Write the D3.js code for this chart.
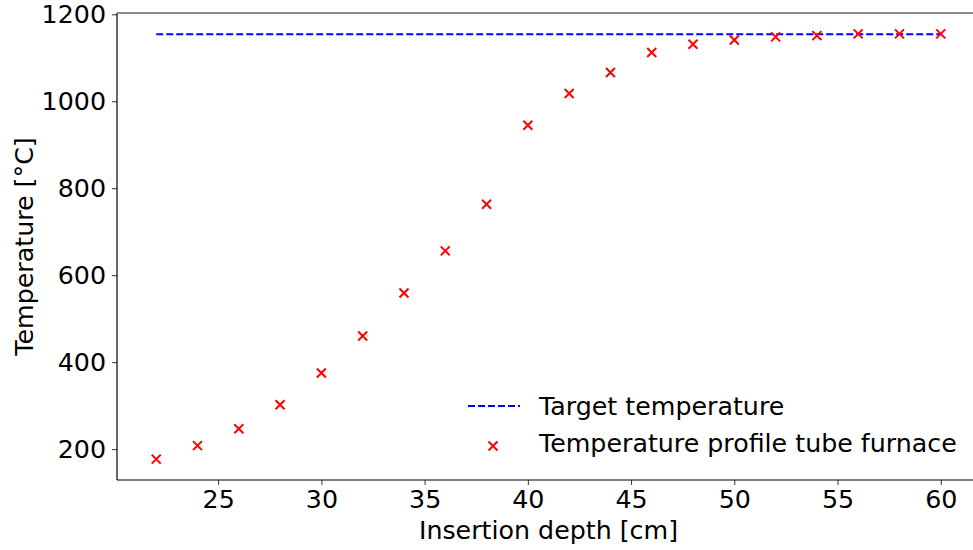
<!DOCTYPE html>
<html>
<head>
<meta charset="utf-8">
<script src="https://cdn.jsdelivr.net/npm/d3@7"></script>
<style>
  body { margin: 0; background: #fff; }
  text { font-family: "DejaVu Sans", sans-serif; }
</style>
</head>
<body>
<div id="chart"></div>
<script>
// data
var depths = [22, 24, 26, 28, 30, 32, 34, 36, 38, 40, 42, 44, 46, 48, 50, 52, 54, 56, 58, 60];
var temps = [177, 208, 247, 302, 375, 460, 559, 656, 763, 945, 1018, 1066, 1112, 1131, 1141, 1148, 1151, 1155, 1155, 1155];
var targetTemp = 1154;
var xTicks = [25, 30, 35, 40, 45, 50, 55, 60];
var yTicks = [200, 400, 600, 800, 1000, 1200];
var legendLabels = ['Target temperature', 'Temperature profile tube furnace'];

var width = 973;
var height = 550;
var plotLeft = 117, plotTop = 13, plotRight = 980, plotBottom = 480;
var fontSize = '25.3px';

var svg = d3.select('#chart').append('svg').attr('width', width).attr('height', height);

var x = d3.scaleLinear().domain([20.1, 61.9]).range([plotLeft, plotRight]);
var y = d3.scaleLinear().domain([129, 1203]).range([plotBottom, plotTop]);

// axes
var xAxis = svg.append('g').attr('transform', 'translate(0,' + plotBottom + ')')
  .call(d3.axisBottom(x).tickValues(xTicks).tickSize(5).tickPadding(5).tickFormat(d3.format('d')));
var yAxis = svg.append('g').attr('transform', 'translate(' + plotLeft + ',0)')
  .call(d3.axisLeft(y).tickValues(yTicks).tickSize(5).tickPadding(6).tickFormat(d3.format('d')));

[xAxis, yAxis].forEach(function(a){
  a.select('.domain').remove();
  a.selectAll('.tick line').attr('stroke', '#333').attr('stroke-width', 1);
  a.selectAll('.tick text').attr('fill', '#000').style('font-size', fontSize).style('font-family', '"DejaVu Sans", sans-serif');
});

// spines
svg.append('line').attr('x1', plotLeft).attr('x2', plotLeft).attr('y1', plotTop).attr('y2', plotBottom).attr('stroke', '#000').attr('stroke-width', 1.2);
svg.append('line').attr('x1', plotLeft).attr('x2', plotRight).attr('y1', plotBottom).attr('y2', plotBottom).attr('stroke', '#000').attr('stroke-width', 1.2);
svg.append('line').attr('x1', plotLeft).attr('x2', plotRight).attr('y1', plotTop).attr('y2', plotTop).attr('stroke', '#666').attr('stroke-width', 1.5);

// target line
svg.append('line')
  .attr('x1', x(depths[0])).attr('x2', x(depths[depths.length - 1]))
  .attr('y1', y(targetTemp)).attr('y2', y(targetTemp))
  .attr('stroke', '#0000ff').attr('stroke-width', 2).attr('stroke-dasharray', '7,3');

// markers
var m = 4.5;
var cross = function(g, cx, cy){
  g.append('path')
    .attr('d', 'M' + (cx - m) + ',' + (cy - m) + 'L' + (cx + m) + ',' + (cy + m) + 'M' + (cx - m) + ',' + (cy + m) + 'L' + (cx + m) + ',' + (cy - m))
    .attr('stroke', '#ff0000').attr('stroke-width', 2).attr('fill', 'none');
};
var pts = svg.append('g');
depths.forEach(function(d, i){ cross(pts, x(d), y(temps[i])); });

// legend
var lg = svg.append('g');
lg.append('line').attr('x1', 468).attr('x2', 520).attr('y1', 406).attr('y2', 406)
  .attr('stroke', '#0000ff').attr('stroke-width', 2).attr('stroke-dasharray', '7,3');
cross(lg, 493, 446);
lg.append('text').attr('x', 539).attr('y', 406).attr('dy', '0.35em').style('font-size', fontSize).text(legendLabels[0]);
lg.append('text').attr('x', 539).attr('y', 443).attr('dy', '0.35em').style('font-size', fontSize).text(legendLabels[1]);

// axis labels
svg.append('text').attr('x', (plotLeft + plotRight) / 2).attr('y', 539).attr('text-anchor', 'middle')
  .style('font-size', fontSize).text('Insertion depth [cm]');
svg.append('text').attr('transform', 'translate(33,' + ((plotTop + plotBottom) / 2) + ') rotate(-90)')
  .attr('text-anchor', 'middle').style('font-size', fontSize).text('Temperature [°C]');
</script>
</body>
</html>
